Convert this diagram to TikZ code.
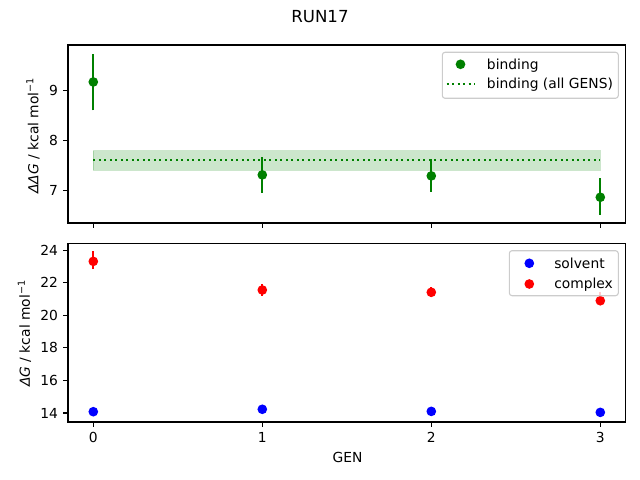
\documentclass[tikz,border=0pt]{standalone}
\usepackage{fontspec}
\setmainfont{DejaVu Sans}
\usepackage{xcolor}
\usepackage{tikz}
\definecolor{mplgreen}{HTML}{008000}
\definecolor{mplblue}{HTML}{0000FF}
\definecolor{mplred}{HTML}{FF0000}
\definecolor{legendedge}{HTML}{CCCCCC}
\tikzstyle{frame} = [draw, line width=0.8pt]
\tikzstyle{tick} = [draw, line width=0.8pt]
\tikzstyle{ylab} = [anchor=east, inner sep=0pt, xshift=-7pt]
\tikzstyle{xlab} = [anchor=north, inner sep=0pt, yshift=-7pt]
\tikzstyle{errbar} = [draw, line width=1.5pt]
\tikzstyle{dot} = [circle, inner sep=0pt, minimum size=7pt]
\tikzstyle{legendbox} = [draw=legendedge, fill=white, fill opacity=0.8, line width=0.8pt, rounded corners=2pt]
\tikzstyle{legtext} = [anchor=base west, inner sep=0pt]

\begin{document}
\begin{tikzpicture}[x=1in, y=1in]
\useasboundingbox (0,0) rectangle (6.4,4.8);
\node (title) at (3.2,4.63) {\large RUN17};

% upper panel: binding free energy
\begin{scope}[x=1.69in, y=0.497in, shift={(0.933in,-0.582in)}]
\fill [mplgreen, fill opacity=0.2] (0,7.40) rectangle (3,7.80);
\draw [mplgreen, draw opacity=0.2, line width=1pt] (0,7.40) rectangle (3,7.80);
\draw [mplgreen, line width=1.5pt, dash pattern=on 1.5pt off 2.475pt] (0,7.61) -- (3,7.61);
\path [errbar, mplgreen] (0,8.61) -- (0,9.75);
\path [errbar, mplgreen] (1,6.95) -- (1,7.67);
\path [errbar, mplgreen] (2,6.97) -- (2,7.62);
\path [errbar, mplgreen] (3,6.51) -- (3,7.25);
\node [dot, fill=mplgreen] (bind-0) at (0,9.18) {};
\node [dot, fill=mplgreen] (bind-1) at (1,7.31) {};
\node [dot, fill=mplgreen] (bind-2) at (2,7.29) {};
\node [dot, fill=mplgreen] (bind-3) at (3,6.86) {};
\path [frame] (-0.15,6.342) rectangle (3.15,9.924);
\path [tick] (-0.15,7) -- ++(-3.5pt,0);
\path [tick] (-0.15,8) -- ++(-3.5pt,0);
\path [tick] (-0.15,9) -- ++(-3.5pt,0);
\node [ylab] (ddg-7) at (-0.15,7) {7};
\node [ylab] (ddg-8) at (-0.15,8) {8};
\node [ylab] (ddg-9) at (-0.15,9) {9};
\path [tick] (0,6.342) -- ++(0,-3.5pt);
\path [tick] (1,6.342) -- ++(0,-3.5pt);
\path [tick] (2,6.342) -- ++(0,-3.5pt);
\path [tick] (3,6.342) -- ++(0,-3.5pt);
\end{scope}
\node [rotate=90] (ddg-label) at (0.33,3.445) {{\itshape ΔΔG} / kcal mol\textsuperscript{−1}};

% upper legend
\path [legendbox] (4.423,3.817) rectangle (6.183,4.277);
\node [dot, fill=mplgreen] (leg-bind) at (4.605,4.157) {};
\draw [mplgreen, line width=1.5pt, dash pattern=on 1.5pt off 2.475pt] (4.467,3.963) -- (4.744,3.963);
\node [legtext] (leg-bind-text) at (4.867,4.107) {binding};
\node [legtext] (leg-all-text) at (4.867,3.913) {binding (all GENS)};

% lower panel: solvent and complex legs
\begin{scope}[x=1.69in, y=0.1627in, shift={(0.933in,-1.608in)}]
\path [errbar, mplred] (0,22.85) -- (0,23.96);
\path [errbar, mplred] (1,21.21) -- (1,21.92);
\path [errbar, mplred] (2,21.14) -- (2,21.72);
\path [errbar, mplred] (3,20.70) -- (3,21.45);
\node [dot, fill=mplred] (cplx-0) at (0,23.32) {};
\node [dot, fill=mplred] (cplx-1) at (1,21.56) {};
\node [dot, fill=mplred] (cplx-2) at (2,21.42) {};
\node [dot, fill=mplred] (cplx-3) at (3,20.90) {};
\node [dot, fill=mplblue] (solv-0) at (0,14.08) {};
\node [dot, fill=mplblue] (solv-1) at (1,14.23) {};
\node [dot, fill=mplblue] (solv-2) at (2,14.10) {};
\node [dot, fill=mplblue] (solv-3) at (3,14.04) {};
\path [frame] (-0.15,13.45) rectangle (3.15,24.43);
\path [tick] (-0.15,14) -- ++(-3.5pt,0);
\path [tick] (-0.15,16) -- ++(-3.5pt,0);
\path [tick] (-0.15,18) -- ++(-3.5pt,0);
\path [tick] (-0.15,20) -- ++(-3.5pt,0);
\path [tick] (-0.15,22) -- ++(-3.5pt,0);
\path [tick] (-0.15,24) -- ++(-3.5pt,0);
\node [ylab] (dg-14) at (-0.15,14) {14};
\node [ylab] (dg-16) at (-0.15,16) {16};
\node [ylab] (dg-18) at (-0.15,18) {18};
\node [ylab] (dg-20) at (-0.15,20) {20};
\node [ylab] (dg-22) at (-0.15,22) {22};
\node [ylab] (dg-24) at (-0.15,24) {24};
\path [tick] (0,13.45) -- ++(0,-3.5pt);
\path [tick] (1,13.45) -- ++(0,-3.5pt);
\path [tick] (2,13.45) -- ++(0,-3.5pt);
\path [tick] (3,13.45) -- ++(0,-3.5pt);
\node [xlab] (gen-0) at (0,13.45) {0};
\node [xlab] (gen-1) at (1,13.45) {1};
\node [xlab] (gen-2) at (2,13.45) {2};
\node [xlab] (gen-3) at (3,13.45) {3};
\end{scope}
\node [rotate=90] (dg-label) at (0.245,1.467) {{\itshape ΔG} / kcal mol\textsuperscript{−1}};
\node (gen-label) at (3.475,0.227) {GEN};

% lower legend
\path [legendbox] (5.093,1.843) rectangle (6.183,2.293);
\node [dot, fill=mplblue] (leg-solv) at (5.293,2.167) {};
\node [dot, fill=mplred] (leg-cplx) at (5.293,1.960) {};
\node [legtext] (leg-solv-text) at (5.54,2.117) {solvent};
\node [legtext] (leg-cplx-text) at (5.54,1.910) {complex};
\end{tikzpicture}
\end{document}
